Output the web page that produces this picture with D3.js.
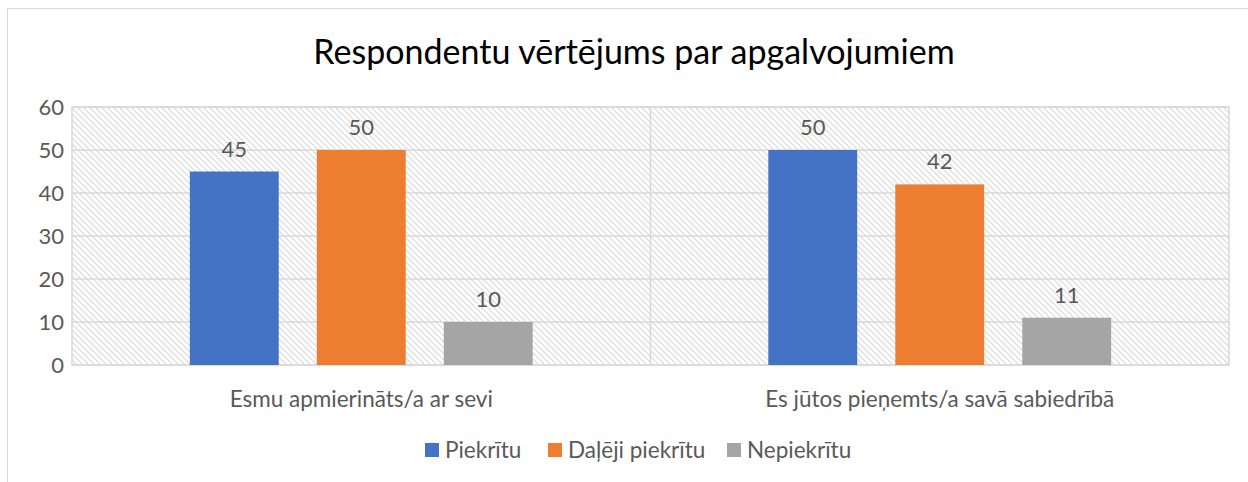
<!DOCTYPE html>
<head>
  <meta charset="utf-8" />
  <script src="https://cdn.jsdelivr.net/npm/d3@7"></script>
  <style>
    body {
      background-color: #ffffff;
      margin: 0;
    }
    text {
      font-family: Lato, "Open Sans", sans-serif;
      fill: #595959;
    }
  </style>
</head>

<body>
  <script>
    var categories = ["Esmu apmierināts/a ar sevi", "Es jūtos pieņemts/a savā sabiedrībā"];
    var seriesNames = ["Piekrītu", "Daļēji piekrītu", "Nepiekrītu"];
    var piekritu = [45, 50];
    var dalejiPiekritu = [50, 42];
    var nepiekritu = [10, 11];
    var yTicks = [0, 10, 20, 30, 40, 50, 60];
    var colors = ["#4472c4", "#ed7d31", "#a5a5a5"];

    var seriesValues = [piekritu, dalejiPiekritu, nepiekritu];

    var width = 1248, height = 482;
    var plot = { left: 72, right: 1229, top: 107, bottom: 365 };

    var svg = d3
      .select("body")
      .append("svg")
      .attr("width", width)
      .attr("height", height);

    // outer chart border
    svg
      .append("rect")
      .attr("x", 7.5)
      .attr("y", 8.5)
      .attr("width", 1250)
      .attr("height", 500)
      .attr("fill", "none")
      .attr("stroke", "#d9d9d9");

    var pattern = svg
      .append("defs")
      .append("pattern")
      .attr("id", "hatch")
      .attr("patternUnits", "userSpaceOnUse")
      .attr("width", 6)
      .attr("height", 6);
    pattern
      .append("path")
      .attr("d", "M-1,-1 L7,7 M-1,5 L1,7 M5,-1 L7,1")
      .attr("stroke", "#d9d9d9")
      .attr("stroke-width", 1.2);

    var x0 = d3.scaleBand().domain(categories).range([plot.left, plot.right]);
    var x1 = d3
      .scaleBand()
      .domain(seriesNames)
      .range([0, x0.bandwidth()])
      .paddingInner(0.3)
      .paddingOuter(0.928);
    var y = d3.scaleLinear().domain([0, 60]).range([plot.bottom, plot.top]);

    svg
      .append("text")
      .attr("x", 634)
      .attr("y", 64)
      .attr("text-anchor", "middle")
      .style("font-size", "34px")
      .style("fill", "#000")
      .text("Respondentu vērtējums par apgalvojumiem");

    // plot background with hatching
    svg
      .append("rect")
      .attr("x", plot.left)
      .attr("y", plot.top)
      .attr("width", plot.right - plot.left)
      .attr("height", plot.bottom - plot.top)
      .attr("fill", "url(#hatch)")
      .attr("stroke", "#d9d9d9")
      .attr("stroke-width", 1.5);

    svg
      .append("g")
      .selectAll("line")
      .data(yTicks)
      .enter()
      .append("line")
      .attr("x1", plot.left)
      .attr("x2", plot.right)
      .attr("y1", d => y(d))
      .attr("y2", d => y(d))
      .attr("stroke", "#d9d9d9")
      .attr("stroke-width", 1.5);

    // category divider
    svg
      .append("line")
      .attr("x1", x0(categories[1]))
      .attr("x2", x0(categories[1]))
      .attr("y1", plot.top)
      .attr("y2", plot.bottom)
      .attr("stroke", "#d9d9d9")
      .attr("stroke-width", 1.5);

    var yAxis = svg
      .append("g")
      .attr("transform", "translate(" + plot.left + ",0)")
      .call(d3.axisLeft(y).tickValues(yTicks).tickSize(0).tickPadding(8));
    yAxis.select(".domain").remove();
    yAxis
      .selectAll("text")
      .style("font-size", "22px")
      .style("font-family", null)
      .style("fill", "#595959");

    var groups = svg
      .append("g")
      .selectAll("g")
      .data(categories)
      .enter()
      .append("g")
      .attr("transform", d => "translate(" + x0(d) + ",0)");

    groups
      .selectAll("rect")
      .data((d, i) => seriesNames.map((s, j) => ({ s: s, v: seriesValues[j][i], c: colors[j] })))
      .enter()
      .append("rect")
      .attr("x", d => x1(d.s))
      .attr("width", x1.bandwidth())
      .attr("y", d => y(d.v))
      .attr("height", d => y(0) - y(d.v))
      .attr("fill", d => d.c);

    groups
      .selectAll(".lbl")
      .data((d, i) => seriesNames.map((s, j) => ({ s: s, v: seriesValues[j][i] })))
      .enter()
      .append("text")
      .attr("class", "lbl")
      .attr("x", d => x1(d.s) + x1.bandwidth() / 2)
      .attr("y", d => y(d.v) - 15)
      .attr("text-anchor", "middle")
      .style("font-size", "22px")
      .text(d => d.v);

    svg
      .append("g")
      .selectAll("text")
      .data(categories)
      .enter()
      .append("text")
      .attr("x", d => x0(d) + x0.bandwidth() / 2)
      .attr("y", 407)
      .attr("text-anchor", "middle")
      .style("font-size", "22.5px")
      .text(d => d);

    // legend
    var legendX = [425, 548, 727];
    var legend = svg
      .append("g")
      .selectAll("g")
      .data(seriesNames)
      .enter()
      .append("g")
      .attr("transform", (d, i) => "translate(" + legendX[i] + ",443)");
    legend
      .append("rect")
      .attr("width", 14)
      .attr("height", 14)
      .attr("fill", (d, i) => colors[i]);
    legend
      .append("text")
      .attr("x", 20)
      .attr("y", 15)
      .style("font-size", "22.5px")
      .text(d => d);
  </script>
</body>
